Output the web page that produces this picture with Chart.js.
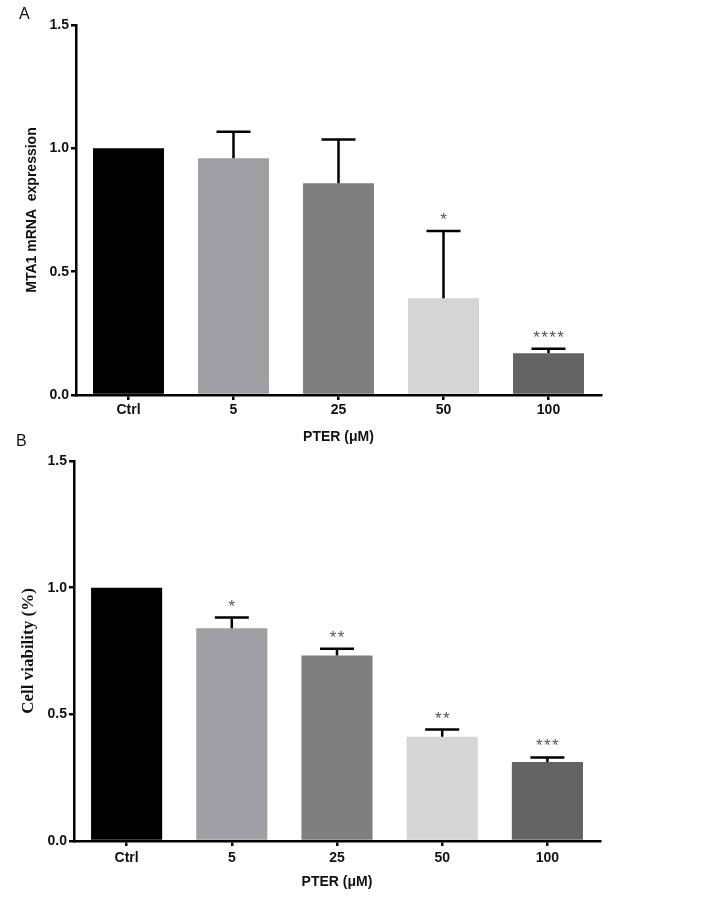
<!DOCTYPE html>
<html>
<head>
<meta charset="utf-8">
<script src="https://cdn.jsdelivr.net/npm/chart.js@4.4.1/dist/chart.umd.min.js"></script>
<style>
    body { margin: 0; background: #fff; }
    #page { position: relative; width: 708px; height: 906px; overflow: hidden; }
    .panel { position: absolute; left: 0; width: 708px; }
    #wrapA { top: 0; height: 453px; }
    #wrapB { top: 445px; height: 461px; }
    .letter { position: absolute; font: 16px "Liberation Sans", Arial, sans-serif; color: #111; }
</style>
</head>
<body>
<div id="page">
    <div class="panel" id="wrapA"><canvas id="chartA"></canvas></div>
    <div class="panel" id="wrapB"><canvas id="chartB"></canvas></div>
    <div class="letter" style="left:19px; top:5px;">A</div>
    <div class="letter" style="left:16px; top:432px;">B</div>
</div>
<script>
const categories = ['Ctrl', '5', '25', '50', '100'];
const yTicks = [0, 0.5, 1.0, 1.5];

// panel A - MTA1 mRNA
const mrnaMean = [1.0, 0.96, 0.858, 0.392, 0.169];
const mrnaErr = [0, 0.107, 0.178, 0.273, 0.019];
const mrnaStars = ['', '', '', '*', '****'];

// panel B - cell viability
const viabMean = [1.0, 0.84, 0.732, 0.412, 0.312];
const viabErr = [0, 0.042, 0.027, 0.028, 0.018];
const viabStars = ['', '*', '**', '**', '***'];

const barColors = ['#000000', '#a0a0a4', '#7f7f7f', '#d5d5d5', '#636363'];

const sans = '"Liberation Sans", Arial, sans-serif';

// error bars (upper only) + significance stars
const errorBarPlugin = {
    id: 'errorBars',
    afterDatasetsDraw(chart, args, opts) {
        const ctx = chart.ctx;
        const meta = chart.getDatasetMeta(0);
        const yScale = chart.scales.y;
        const means = chart.data.datasets[0].data;
        ctx.save();
        ctx.strokeStyle = '#000';
        ctx.lineWidth = 2.5;
        meta.data.forEach((bar, i) => {
            const err = opts.errors[i];
            const yTop = yScale.getPixelForValue(means[i] + err);
            if (err > 0) {
                const yBase = yScale.getPixelForValue(means[i]);
                ctx.beginPath();
                ctx.moveTo(bar.x, yBase);
                ctx.lineTo(bar.x, yTop);
                ctx.moveTo(bar.x - 17, yTop);
                ctx.lineTo(bar.x + 17, yTop);
                ctx.stroke();
            }
            const s = opts.stars[i];
            if (s) {
                // each star on its own, about 8px apart like the original
                ctx.fillStyle = '#555';
                ctx.font = '17px ' + sans;
                ctx.textAlign = 'center';
                ctx.textBaseline = 'alphabetic';
                const gap = 8;
                const x0 = bar.x - (s.length - 1) * gap / 2;
                for (let k = 0; k < s.length; k++) {
                    ctx.fillText('*', x0 + k * gap, yTop - 16 + 10);
                }
            }
        });
        ctx.restore();
    }
};

function makeChart(canvasId, means, errors, stars, cfg) {
    const ctx = document.getElementById(canvasId).getContext('2d');
    return new Chart(ctx, {
        type: 'bar',
        data: {
            labels: categories,
            datasets: [{
                data: means,
                backgroundColor: barColors,
                borderWidth: 0,
                barPercentage: 0.676,
                categoryPercentage: 1.0
            }]
        },
        options: {
            responsive: true,
            maintainAspectRatio: false,
            animation: false,
            layout: {
                padding: { left: 0, top: cfg.top, right: 708 - cfg.right, bottom: 0 }
            },
            plugins: {
                legend: { display: false },
                tooltip: { enabled: false },
                errorBars: { errors: errors, stars: stars }
            },
            scales: {
                x: {
                    afterFit: (scale) => { scale.height = cfg.xHeight; },
                    border: { display: true, color: '#000', width: 2.5 },
                    grid: {
                        offset: false,
                        drawOnChartArea: false,
                        color: '#000',
                        lineWidth: 2.5,
                        tickLength: 5
                    },
                    ticks: {
                        color: '#111',
                        padding: cfg.xTickPad,
                        font: { family: sans, size: 14, weight: 'bold' }
                    },
                    title: {
                        display: true,
                        text: 'PTER (μM)',
                        color: '#111',
                        padding: { top: 2, bottom: cfg.xTitlePad },
                        font: { family: sans, size: 14, weight: 'bold' }
                    }
                },
                y: {
                    min: 0,
                    max: 1.5,
                    afterFit: (scale) => { scale.width = cfg.left; },
                    afterBuildTicks: (scale) => { scale.ticks = yTicks.map(v => ({ value: v })); },
                    border: { display: true, color: '#000', width: 2.5 },
                    grid: {
                        drawOnChartArea: false,
                        color: '#000',
                        lineWidth: 2.5,
                        tickLength: 5
                    },
                    ticks: {
                        color: '#111',
                        padding: 2,
                        callback: (v) => Number(v).toFixed(1),
                        font: { family: sans, size: 14, weight: 'bold' }
                    },
                    title: {
                        display: true,
                        text: cfg.yTitle,
                        color: '#111',
                        padding: { top: cfg.yTitlePad, bottom: 0 },
                        font: cfg.yFont
                    }
                }
            }
        },
        plugins: [errorBarPlugin]
    });
}

makeChart('chartA', mrnaMean, mrnaErr, mrnaStars, {
    top: 25, right: 601, left: 76, xHeight: 58,
    xTickPad: 2, xTitlePad: 7,
    yTitle: 'MTA1 mRNA  expression', yTitlePad: 24,
    yFont: { family: sans, size: 14, weight: 'bold' }
});

makeChart('chartB', viabMean, viabErr, viabStars, {
    top: 16, right: 600, left: 74, xHeight: 65,
    xTickPad: 4, xTitlePad: 15,
    yTitle: 'Cell viability (%)', yTitlePad: 18,
    yFont: { family: '"Liberation Serif", "Times New Roman", serif', size: 17, weight: 'bold' }
});
</script>
</body>
</html>
